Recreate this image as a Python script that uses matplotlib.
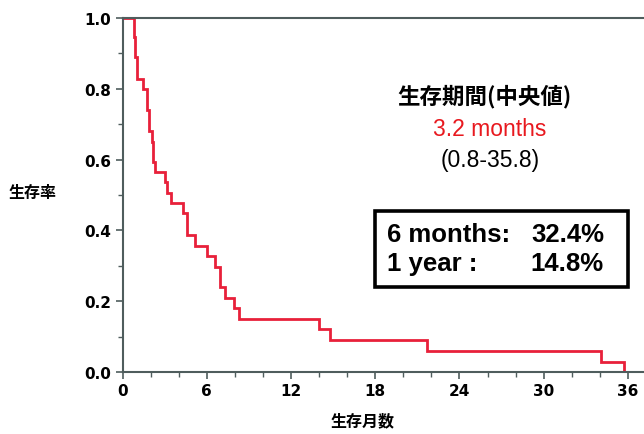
import matplotlib
matplotlib.use("Agg")
import matplotlib.pyplot as plt
from matplotlib.patches import Rectangle
from matplotlib.ticker import MultipleLocator

# Kaplan-Meier steps (months, survival after the step)
times = [0.0, 0.82, 0.91, 1.05, 1.44, 1.72, 1.86, 2.10, 2.19, 2.31, 3.03, 3.19,
         3.45, 4.29, 4.62, 5.16, 6.00, 6.62, 6.94, 7.30, 7.92, 8.32, 14.02,
         14.78, 21.67, 34.08, 35.75]
surv = [1.0, 0.946, 0.890, 0.828, 0.800, 0.739, 0.682, 0.649, 0.593, 0.564,
        0.536, 0.505, 0.476, 0.448, 0.387, 0.357, 0.327, 0.298, 0.239, 0.209,
        0.181, 0.149, 0.121, 0.090, 0.059, 0.029, 0.0]

x_ticks = [0, 6, 12, 18, 24, 30, 36]
y_ticks = [0.0, 0.2, 0.4, 0.6, 0.8, 1.0]

median_title = "生存期間(中央値)"
median_value = "3.2 months"
median_range = "(0.8-35.8)"
rate_labels = ["6 months:", "1 year :"]
rate_values = ["32.4%", "14.8%"]

W, H = 644, 435
CJK = ["Noto Sans CJK JP", "DejaVu Sans"]
RED = "#e8203a"
AXC = "#4f5d5d"

fig = plt.figure(figsize=(W / 100, H / 100), dpi=100)
ax = fig.add_axes([122.5 / W, 1 - 373 / H, 1 - 122.5 / W, (373 - 19) / H])

ax.step(times, surv, where="post", color=RED, lw=2.0, solid_joinstyle="miter")

ax.set_xlim(0, (W - 122.5) / 14.04)
ax.set_ylim(0, 1.0)
ax.set_xticks(x_ticks)
ax.set_yticks(y_ticks)
ax.xaxis.set_minor_locator(MultipleLocator(2))
ax.yaxis.set_minor_locator(MultipleLocator(0.1))
ax.set_yticklabels([f"{v:.1f}" for v in y_ticks])

ax.spines["right"].set_visible(False)
for side in ["left", "top", "bottom"]:
    ax.spines[side].set_color(AXC)
    ax.spines[side].set_linewidth(1.5)
ax.tick_params(which="major", length=5, width=1.2, color=AXC, labelsize=11, pad=3)
ax.tick_params(which="minor", length=3.5, width=1.0, color=AXC)
for lab in ax.get_xticklabels() + ax.get_yticklabels():
    lab.set_fontweight("bold")

def fx(x):
    return x / W

def fy(y):
    return 1 - y / H

fig.text(fx(33), fy(193), "生存率", family=CJK, fontsize=11.5, fontweight="bold",
         ha="center", va="center")
fig.text(fx(363), fy(421), "生存月数", family=CJK, fontsize=11.5, fontweight="bold",
         ha="center", va="center")

fig.text(fx(484), fy(97), median_title, family=CJK, fontsize=16.2, fontweight="bold",
         ha="center", va="center")
fig.text(fx(490), fy(130), median_value, family="Liberation Sans", fontsize=16.5,
         color="#e8191f", ha="center", va="center")
fig.text(fx(490), fy(161), median_range, family="Liberation Sans", fontsize=16.5,
         ha="center", va="center")

fig.patches.append(Rectangle((fx(375), fy(288)), (628 - 375) / W, (288 - 211.5) / H,
                             transform=fig.transFigure, fill=False,
                             edgecolor="black", lw=2.6))
for i, (lab, val) in enumerate(zip(rate_labels, rate_values)):
    yy = fy(235 + 29 * i)
    fig.text(fx(387), yy, lab, family="Liberation Sans", fontsize=18.5,
             fontweight="bold", ha="left", va="center")
    fig.text(fx(604), yy, val, family="Liberation Sans", fontsize=18.5,
             fontweight="bold", ha="right", va="center")

fig.savefig("out.png", dpi=100)
